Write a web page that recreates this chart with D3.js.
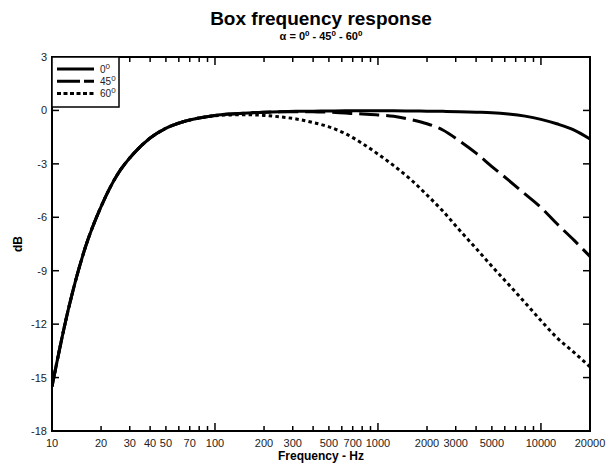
<!DOCTYPE html>
<html><head><meta charset="utf-8">
<script src="https://cdn.jsdelivr.net/npm/d3@7/dist/d3.min.js"></script>
<style>
body{margin:0;background:#fff;}
text{font-family:"Liberation Sans",Arial,sans-serif;white-space:pre;}
</style></head>
<body><svg id="c" width="611" height="463"></svg>
<script>
const freqs = [10,12.5,16,20,25,31.5,40,50,63,80,100,125,160,200,250,315,400,500,630,800,1000,1250,1600,2000,2500,3150,4000,5000,6300,8000,10000,12500,16000,20000];
const resp0  = [-15.5,-11.3,-7.7,-5.4,-3.65,-2.45,-1.55,-1.0,-0.65,-0.42,-0.28,-0.2,-0.14,-0.1,-0.07,-0.05,-0.04,-0.03,-0.02,-0.02,-0.02,-0.02,-0.03,-0.04,-0.05,-0.07,-0.1,-0.13,-0.2,-0.32,-0.5,-0.75,-1.1,-1.6];
const resp45 = [-15.5,-11.3,-7.7,-5.4,-3.65,-2.45,-1.55,-1.0,-0.65,-0.42,-0.28,-0.2,-0.14,-0.1,-0.08,-0.07,-0.08,-0.1,-0.15,-0.2,-0.25,-0.33,-0.52,-0.75,-1.1,-1.7,-2.4,-3.15,-3.9,-4.7,-5.45,-6.35,-7.3,-8.2];
const resp60 = [-15.5,-11.3,-7.7,-5.4,-3.65,-2.45,-1.55,-1.0,-0.65,-0.42,-0.3,-0.25,-0.24,-0.28,-0.36,-0.48,-0.68,-0.92,-1.3,-1.85,-2.45,-3.1,-3.9,-4.75,-5.65,-6.7,-7.75,-8.75,-9.75,-10.8,-11.8,-12.75,-13.6,-14.4];
const xLabels = [10,20,30,40,50,70,100,200,300,500,700,1000,2000,3000,5000,10000,20000];
const xMajor = [10,100,1000,10000];
const yTicks = [-18,-15,-12,-9,-6,-3,0,3];
const seriesNames = ["0","45","60"];

const svg = d3.select("#c");
const L=52,R=590,T=57,B=431;
const x = d3.scaleLog().domain([10,20000]).range([L,R]);
const y = d3.scaleLinear().domain([-18,3]).range([B,T]);

const minor=[];
for(let d=10; d<=10000; d*=10){ for(let k=1;k<=9;k++){ const v=d*k; if(v<=20000) minor.push(v);} }

const g = svg.append("g");
minor.forEach(v=>{
  const len = xMajor.includes(v)?8:5;
  g.append("line").attr("x1",x(v)).attr("x2",x(v)).attr("y1",B).attr("y2",B-len).attr("stroke","#000").attr("stroke-width",1.5);
  g.append("line").attr("x1",x(v)).attr("x2",x(v)).attr("y1",T).attr("y2",T+len).attr("stroke","#000").attr("stroke-width",1.5);
});
yTicks.forEach(v=>{
  g.append("line").attr("x1",L).attr("x2",L+7).attr("y1",y(v)).attr("y2",y(v)).attr("stroke","#000").attr("stroke-width",1.5);
  g.append("line").attr("x1",R).attr("x2",R-7).attr("y1",y(v)).attr("y2",y(v)).attr("stroke","#000").attr("stroke-width",1.5);
  g.append("text").attr("x",L-5).attr("y",y(v)+4).attr("text-anchor","end").attr("font-size",11).attr("fill","#222").text(v);
});
xLabels.forEach(v=>{
  g.append("text").attr("x",x(v)).attr("y",447).attr("text-anchor","middle").attr("font-size",11).attr("fill","#222").text(v);
});

svg.append("defs").append("clipPath").attr("id","clip").append("rect").attr("x",L).attr("y",T).attr("width",R-L).attr("height",B-T);
const line = d3.line().x(d=>x(d[0])).y(d=>y(d[1])).curve(d3.curveMonotoneX);
const styles = {"60":"3.5,3.2","45":"20,7","0":null};
const data = {"0":resp0,"45":resp45,"60":resp60};
const cg = svg.append("g").attr("clip-path","url(#clip)");
["60","45","0"].forEach(s=>{
  const p = cg.append("path").datum(freqs.map((f,i)=>[f,data[s][i]]))
    .attr("d",line).attr("fill","none").attr("stroke","#000").attr("stroke-width",3);
  if(styles[s]) p.attr("stroke-dasharray",styles[s]);
});

svg.append("rect").attr("x",L).attr("y",T).attr("width",R-L).attr("height",B-T).attr("fill","none").attr("stroke","#000").attr("stroke-width",2);

const lg = svg.append("g");
lg.append("rect").attr("x",L).attr("y",T).attr("width",67).attr("height",50).attr("fill","#fff").attr("stroke","#000").attr("stroke-width",1.5);
const legDash = {"0":null,"45":"23,4","60":"4,2.5"};
seriesNames.forEach((s,i)=>{
  const yy = 69 + i*12.2;
  const l = lg.append("line").attr("x1",57).attr("x2",94).attr("y1",yy).attr("y2",yy).attr("stroke","#000").attr("stroke-width",3);
  if(legDash[s]) l.attr("stroke-dasharray",legDash[s]);
  const t = lg.append("text").attr("x",100).attr("y",yy+4).attr("font-size",10).attr("fill","#222");
  t.append("tspan").text(s);
  t.append("tspan").attr("dy",-4).attr("font-size",8).text("0");
});

svg.append("text").attr("x",321).attr("y",25).attr("text-anchor","middle").attr("font-size",19).attr("font-weight","bold").text("Box frequency response");
const st = svg.append("text").attr("x",321).attr("y",40).attr("text-anchor","middle").attr("font-size",11).attr("font-weight","bold");
const subParts = ["α = 0"," - 45"," - 60"];
subParts.forEach((p,i)=>{
  st.append("tspan").attr("dy",i===0?0:4).text(p);
  st.append("tspan").attr("font-size",8).attr("dy",-4).text("0");
});
svg.append("text").attr("x",321).attr("y",460).attr("text-anchor","middle").attr("font-size",12).attr("font-weight","bold").text("Frequency - Hz");
svg.append("text").attr("transform","translate(22,244) rotate(-90)").attr("text-anchor","middle").attr("font-size",12).attr("font-weight","bold").text("dB");
</script></body></html>
